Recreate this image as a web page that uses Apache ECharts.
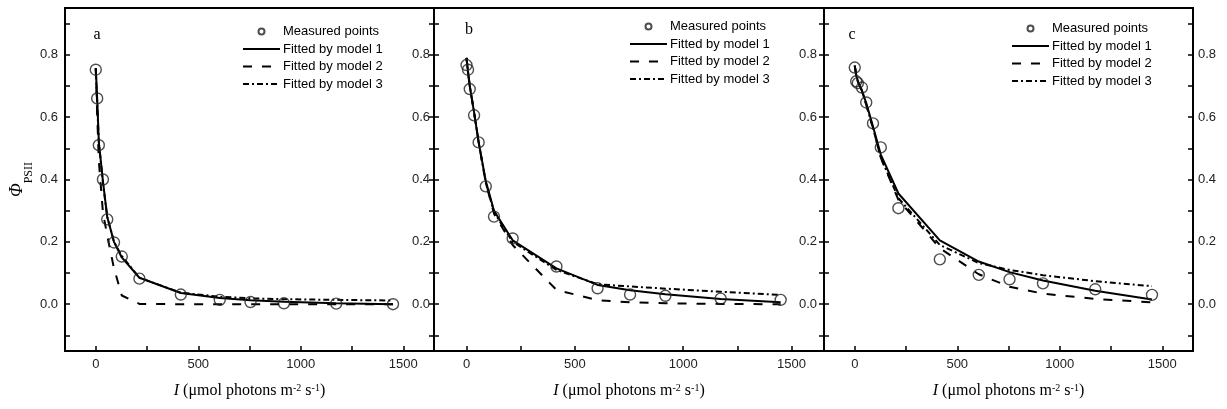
<!DOCTYPE html>
<html><head><meta charset="utf-8">
<script src="https://cdn.jsdelivr.net/npm/echarts@6/dist/echarts.min.js"></script>
<style>html,body{margin:0;padding:0;background:#fff}#c{width:1227px;height:409px}</style>
</head><body><div id="c"></div>
<script>
// ---- data ----
const lightLevels = [0, 7, 15, 35, 56, 89, 127, 213, 415, 605, 755, 918, 1173, 1450];

const measuredA = [0.752, 0.660, 0.510, 0.400, 0.272, 0.198, 0.153, 0.082, 0.031, 0.014, 0.007, 0.003, 0.002, 0.000];
const model1A   = [0.757, 0.660, 0.520, 0.395, 0.280, 0.200, 0.150, 0.085, 0.036, 0.020, 0.013, 0.008, 0.003, 0.000];
const model2A   = [0.757, 0.610, 0.460, 0.295, 0.220, 0.115, 0.028, 0.001, 0.000, 0.000, 0.000, 0.000, 0.000, 0.000];
const model3A   = [0.757, 0.640, 0.520, 0.390, 0.280, 0.200, 0.155, 0.085, 0.037, 0.024, 0.019, 0.016, 0.014, 0.012];

const measuredB = [0.767, 0.752, 0.690, 0.606, 0.519, 0.378, 0.281, 0.211, 0.121, 0.051, 0.031, 0.027, 0.018, 0.014];
const model1B   = [0.790, 0.745, 0.700, 0.615, 0.520, 0.395, 0.300, 0.205, 0.115, 0.062, 0.045, 0.032, 0.017, 0.006];
const model2B   = [0.790, 0.745, 0.700, 0.615, 0.520, 0.390, 0.290, 0.190, 0.046, 0.013, 0.006, 0.003, 0.001, 0.000];
const model3B   = [0.790, 0.745, 0.700, 0.615, 0.520, 0.390, 0.295, 0.200, 0.110, 0.064, 0.057, 0.050, 0.040, 0.030];

const measuredC = [0.759, 0.715, 0.709, 0.695, 0.647, 0.580, 0.503, 0.308, 0.144, 0.094, 0.080, 0.067, 0.048, 0.030];
const model1C   = [0.765, 0.735, 0.715, 0.685, 0.645, 0.570, 0.480, 0.355, 0.205, 0.137, 0.103, 0.076, 0.043, 0.015];
const model2C   = [0.765, 0.735, 0.715, 0.685, 0.640, 0.565, 0.470, 0.335, 0.180, 0.096, 0.056, 0.034, 0.017, 0.006];
const model3C   = [0.765, 0.735, 0.715, 0.685, 0.640, 0.565, 0.470, 0.340, 0.190, 0.132, 0.110, 0.093, 0.074, 0.058];

const xTickValues  = [0, 250, 500, 750, 1000, 1250, 1500];
const xLabelValues = [0, 500, 1000, 1500];
const yTickValues  = [-0.1, 0, 0.1, 0.2, 0.3, 0.4, 0.5, 0.6, 0.7, 0.8, 0.9];
const yLabelValues = [0, 0.2, 0.4, 0.6, 0.8];
const panelLetters = ['a', 'b', 'c'];
const seriesNames  = ['Measured points', 'Fitted by model 1', 'Fitted by model 2', 'Fitted by model 3'];

const panels = [
  { measured: measuredA, fits: [model1A, model2A, model3A] },
  { measured: measuredB, fits: [model1B, model2B, model3B] },
  { measured: measuredC, fits: [model1C, model2C, model3C] }
];

// ---- layout / style ----
const gridBoxes = [
  { left: 65,  top: 8, width: 369, height: 343 },
  { left: 434, top: 8, width: 390, height: 343 },
  { left: 824, top: 8, width: 369, height: 343 }
];
const legendPos = [
  { left: 242, top: 25 },
  { left: 629, top: 20 },
  { left: 1011, top: 22 }
];
const letterPos = [[97, 35], [469, 30], [852, 35]];
const SANS = 'Liberation Sans, Arial, sans-serif';
const SERIF = 'Liberation Serif, Times New Roman, serif';
const lineTypes = ['solid', [9, 10], [6, 3, 2, 3]];

const tickStyle = { inside: true, length: 5, lineStyle: { color: '#000', width: 1.5 } };
const labelStyle = { fontFamily: SANS, fontSize: 13, color: '#222' };
const hiddenLine = { show: false, onZero: false };

const grid = [], xAxis = [], yAxis = [], series = [], legend = [], graphic = [];
gridBoxes.forEach((g, i) => {
  grid.push(Object.assign({ show: true, borderColor: '#000', borderWidth: 2, backgroundColor: 'transparent' }, g));
  xAxis.push({
    type: 'value', gridIndex: i, min: -150, max: 1650, position: 'bottom',
    axisLine: hiddenLine, splitLine: { show: false },
    axisTick: Object.assign({ customValues: xTickValues }, tickStyle),
    axisLabel: Object.assign({ customValues: xLabelValues, margin: 7, formatter: v => String(v) }, labelStyle),
    name: '{i|I} (μmol photons m{sup|-2} s{sup|-1})',
    nameLocation: 'middle', nameGap: 32,
    nameTextStyle: {
      fontFamily: SERIF, fontSize: 16, color: '#000',
      rich: {
        i: { fontFamily: SERIF, fontSize: 16, fontStyle: 'italic', color: '#000' },
        sup: { fontFamily: SERIF, fontSize: 10, verticalAlign: 'top', color: '#000' }
      }
    }
  });
  const leftAxis = {
    type: 'value', gridIndex: i, position: 'left', min: -0.15, max: 0.95,
    axisLine: hiddenLine, splitLine: { show: false },
    axisTick: Object.assign({ customValues: yTickValues }, tickStyle),
    axisLabel: Object.assign({ customValues: yLabelValues, margin: 7, show: i === 0, formatter: v => v.toFixed(1) }, labelStyle)
  };
  if (i === 0) {
    Object.assign(leftAxis, {
      name: '{phi|Φ}{sub|PSII}', nameLocation: 'middle', nameRotate: 90, nameGap: 30,
      nameTextStyle: {
        rich: {
          phi: { fontFamily: SERIF, fontSize: 18, fontStyle: 'italic', color: '#000', padding: [0, 0, 9, 0] },
          sub: { fontFamily: SERIF, fontSize: 12, color: '#000', verticalAlign: 'bottom' }
        }
      }
    });
  }
  yAxis.push(leftAxis);
  yAxis.push({
    type: 'value', gridIndex: i, position: 'right', min: -0.15, max: 0.95,
    axisLine: hiddenLine, splitLine: { show: false },
    axisTick: Object.assign({ customValues: yTickValues }, tickStyle),
    axisLabel: Object.assign({ customValues: yLabelValues, inside: i < 2, margin: i === 0 ? 4 : (i === 1 ? 7 : 5), formatter: v => v.toFixed(1) }, labelStyle)
  });

  const p = panels[i];
  p.fits.forEach((fit, k) => {
    series.push({
      type: 'line', name: seriesNames[k + 1], xAxisIndex: i, yAxisIndex: 2 * i,
      data: lightLevels.map((x, j) => [x, fit[j]]),
      symbol: 'none', z: 2, silent: true,
      itemStyle: { color: 'rgba(0,0,0,0)', borderWidth: 0, opacity: 0 },
      lineStyle: { color: '#000', width: 2, type: lineTypes[k] }
    });
  });
  series.push({
    type: 'scatter', name: seriesNames[0], xAxisIndex: i, yAxisIndex: 2 * i,
    data: lightLevels.map((x, j) => [x, p.measured[j]]),
    symbol: 'circle', symbolSize: 11, z: 3, silent: true,
    itemStyle: { color: 'rgba(255,255,255,0)', borderColor: '#222', borderWidth: 1.4 }
  });

  legend.push({
    left: legendPos[i].left, top: legendPos[i].top, orient: 'vertical',
    itemWidth: 37, itemHeight: 6, itemGap: 4.5, selectedMode: false,
    padding: 0, symbolKeepAspect: true,
    textStyle: { fontFamily: SANS, fontSize: 13, color: '#000', padding: [0, 0, 0, -2] },
    data: seriesNames
  });

  graphic.push({
    type: 'text', x: letterPos[i][0], y: letterPos[i][1],
    style: { text: panelLetters[i], font: '16px ' + SERIF, fill: '#000', textAlign: 'center', textVerticalAlign: 'middle' }
  });
});

const chart = echarts.init(document.getElementById('c'), null, { renderer: 'canvas' });
chart.setOption({ animation: false, backgroundColor: '#fff', grid, xAxis, yAxis, series, legend, graphic });
</script>
</body></html>
